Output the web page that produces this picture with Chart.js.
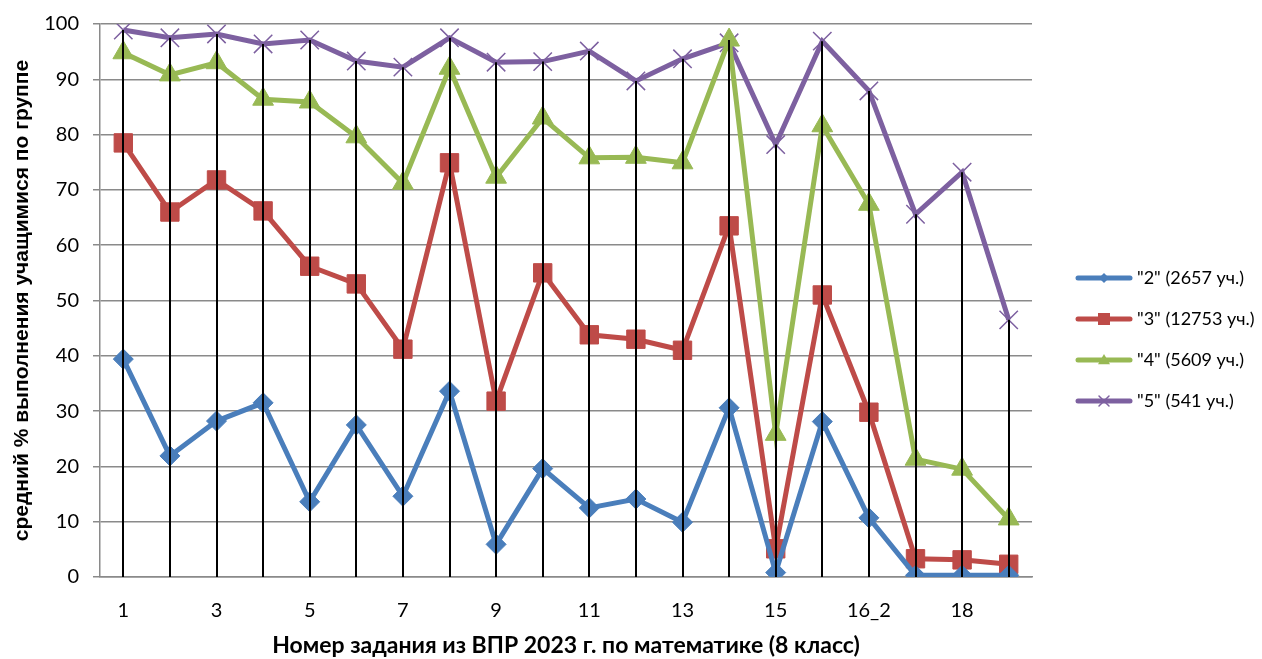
<!DOCTYPE html>
<html><head><meta charset="utf-8">
<script src="https://cdn.jsdelivr.net/npm/chart.js@4/dist/chart.umd.min.js"></script>
<style>html,body{margin:0;padding:0;background:#fff}#wrap{width:1262px;height:659px;position:relative}</style>
</head><body><div id="wrap"><canvas id="c"></canvas></div>
<script>
const categories = ['1','2','3','4','5','6','7','8','9','10','11','12','13','14','15','16_1','16_2','17','18','19'];
const tickLabels = ['1','','3','','5','','7','','9','','11','','13','','15','','16_2','','18',''];
const seriesNames = ['"2" (2657 уч.)','"3" (12753 уч.)','"4" (5609 уч.)','"5" (541 уч.)'];
const grade2 = [39.4,21.9,28.2,31.5,13.6,27.5,14.6,33.6,5.9,19.6,12.5,14.1,9.9,30.6,0.8,28.1,10.7,0.3,0.3,0.3];
const grade3 = [78.5,66.0,71.8,66.2,56.2,53.0,41.2,74.9,31.8,55.0,43.8,43.0,41.0,63.5,5.1,51.0,29.8,3.3,3.1,2.3];
const grade4 = [94.8,90.8,93.0,86.4,85.9,79.6,71.2,92.0,72.3,83.0,75.8,75.9,74.9,97.1,25.8,81.6,67.4,21.3,19.5,10.5];
const grade5 = [98.9,97.5,98.2,96.4,97.1,93.3,92.2,97.5,93.1,93.2,95.1,89.7,93.7,96.6,78.2,96.9,87.9,65.6,73.2,46.5];
const yTicks = [0,10,20,30,40,50,60,70,80,90,100];

const colors = ['#4A7EBB','#BE4B48','#98B954','#7D60A0'];
const FONT = 'Lato, "Open Sans", sans-serif';

const L = 100, R = 1032, T = 24, B = 577, W = 1262, H = 659;

const dropLines = {
  id: 'dropLines',
  afterDatasetsDraw(chart) {
    const {ctx, scales:{x, y}} = chart;
    const all = chart.data.datasets.map(d => d.data);
    ctx.save();
    ctx.strokeStyle = '#000';
    ctx.lineWidth = 2;
    for (let i = 0; i < categories.length; i++) {
      const m = Math.max(...all.map(a => a[i]));
      const px = Math.round(x.getPixelForValue(i));
      ctx.beginPath();
      ctx.moveTo(px, y.getPixelForValue(m));
      ctx.lineTo(px, y.getPixelForValue(0));
      ctx.stroke();
    }
    ctx.restore();
  }
};

function drawMarker(ctx, style, x, y, r, color) {
  ctx.save();
  ctx.fillStyle = color; ctx.strokeStyle = color;
  ctx.beginPath();
  if (style === 'rectRot') {
    ctx.moveTo(x, y - r); ctx.lineTo(x + r, y); ctx.lineTo(x, y + r); ctx.lineTo(x - r, y); ctx.closePath(); ctx.fill();
  } else if (style === 'rect') {
    ctx.fillRect(x - r, y - r, 2 * r, 2 * r);
  } else if (style === 'triangle') {
    ctx.moveTo(x, y - r); ctx.lineTo(x + r, y + r * 0.7); ctx.lineTo(x - r, y + r * 0.7); ctx.closePath(); ctx.fill();
  } else if (style === 'crossRot') {
    ctx.lineWidth = 1.5;
    ctx.moveTo(x - r, y - r); ctx.lineTo(x + r, y + r);
    ctx.moveTo(x + r, y - r); ctx.lineTo(x - r, y + r); ctx.stroke();
  }
  ctx.restore();
}

const customLegend = {
  id: 'customLegend',
  afterDraw(chart) {
    const ctx = chart.ctx;
    const rows = [278, 319, 360, 401];
    const styles = ['rectRot','rect','triangle','crossRot'];
    const sizes = [5, 6, 6, 5];
    ctx.save();
    chart.data.datasets.forEach((d, i) => {
      const yy = rows[i];
      ctx.strokeStyle = colors[i];
      ctx.lineWidth = 5;
      ctx.lineCap = 'round';
      ctx.beginPath(); ctx.moveTo(1078, yy); ctx.lineTo(1130, yy); ctx.stroke();
      drawMarker(ctx, styles[i], 1104, yy, sizes[i], colors[i]);
      ctx.fillStyle = '#000';
      ctx.font = '18px ' + FONT;
      ctx.textBaseline = 'middle';
      ctx.textAlign = 'left';
      ctx.fillText(d.label, 1137, yy);
    });
    ctx.restore();
  }
};

const mk = (label, data, color, style, r) => ({
  label, data,
  borderColor: color, backgroundColor: color,
  borderWidth: 5,
  pointStyle: style, pointRadius: r, pointHoverRadius: r,
  pointBorderColor: color, pointBackgroundColor: color,
  pointBorderWidth: style === 'crossRot' ? 1.5 : 1,
  tension: 0, fill: false
});

new Chart(document.getElementById('c'), {
  type: 'line',
  data: {
    labels: categories,
    datasets: [
      mk(seriesNames[0], grade2, colors[0], 'rectRot', 10),
      mk(seriesNames[1], grade3, colors[1], 'rect', 13),
      mk(seriesNames[2], grade4, colors[2], 'triangle', 12),
      mk(seriesNames[3], grade5, colors[3], 'crossRot', 13)
    ]
  },
  options: {
    responsive: true,
    maintainAspectRatio: false,
    animation: false,
    events: [],
    layout: { padding: { left: 4, top: T, right: W - R, bottom: 0 } },
    plugins: { legend: { display: false }, tooltip: { enabled: false } },
    scales: {
      x: {
        type: 'category',
        offset: true,
        grid: { display: false, drawTicks: false },
        border: { display: true, color: '#8a8a8a', width: 1.5 },
        ticks: {
          autoSkip: false, maxRotation: 0, padding: 22,
          color: '#000', font: { size: 20, family: FONT },
          callback: (v, i) => tickLabels[i]
        },
        title: {
          display: true,
          text: 'Номер задания из ВПР 2023 г. по математике (8 класс)',
          color: '#000', font: { size: 23, weight: 'bold', family: FONT },
          padding: { top: 0, bottom: 0 }
        },
        afterFit: s => { s.height = H - B; s.paddingLeft = 0; s.paddingRight = 0; }
      },
      y: {
        min: 0, max: 100,
        afterBuildTicks: s => { s.ticks = yTicks.map(v => ({ value: v })); },
        grid: { color: '#8a8a8a', lineWidth: 1.5, tickLength: 7, drawTicks: true },
        border: { display: true, color: '#8a8a8a', width: 1.5 },
        ticks: { padding: 14, color: '#000', font: { size: 20, family: FONT } },
        title: {
          display: true,
          text: 'средний % выполнения учащимися по группе',
          color: '#000', font: { size: 21, weight: 'bold', family: '"Liberation Sans", Arial, sans-serif' },
          padding: { top: 6, bottom: 0 }
        },
        afterFit: s => { s.width = L - 4; s.paddingTop = 0; s.paddingBottom = 0; }
      }
    }
  },
  plugins: [dropLines, customLegend]
});
</script>
</body></html>
